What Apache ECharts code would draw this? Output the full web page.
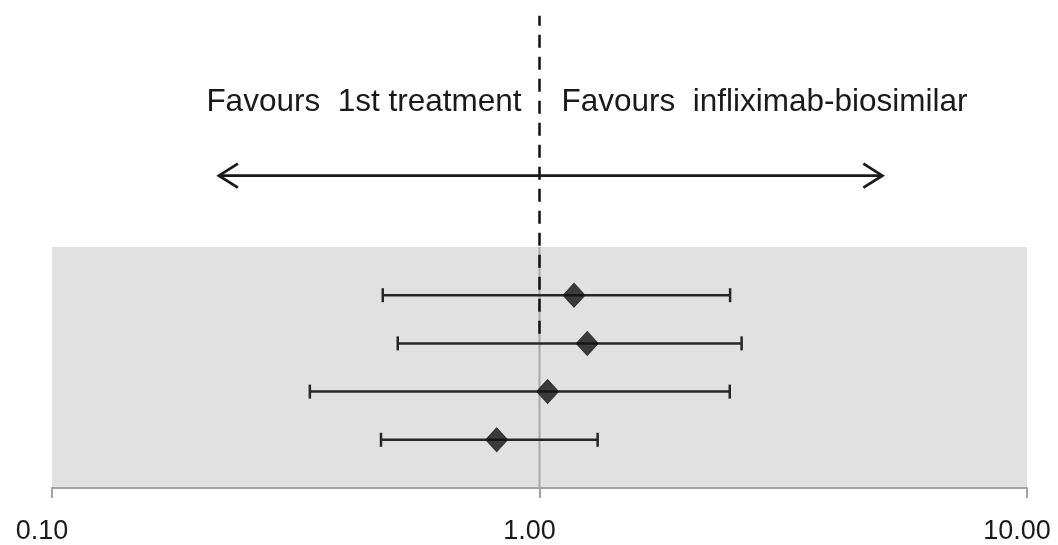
<!DOCTYPE html>
<html><head><meta charset="utf-8">
<script src="https://cdn.jsdelivr.net/npm/echarts@6/dist/echarts.min.js"></script>
<style>html,body{margin:0;padding:0;background:#fff}#c{width:1058px;height:545px}</style>
</head><body><div id="c"></div>
<script>
// ---- data ----
const rows = [4, 3, 2, 1];
const estimates = [1.177, 1.253, 1.039, 0.817];
const lower = [0.477, 0.512, 0.338, 0.473];
const upper = [2.46, 2.598, 2.456, 1.316];
const xTicks = [0.1, 1, 10];
const refValue = 1;
const dashRange = [3.2, 9.8];      // y-extent of dashed no-effect line (row units)
const arrowRange = [0.22, 5.05];   // x-extent of the double arrow
const arrowRow = 6.48;
const textRow = 8.0;
const leftText = 'Favours  1st treatment';
const rightText = 'Favours  infliximab-biosimilar';

const FONT = 'Liberation Sans';
const chart = echarts.init(document.getElementById('c'), null, {renderer: 'canvas'});

const ciData = rows.map((r, i) => [lower[i], upper[i], r]);
const ptData = rows.map((r, i) => [estimates[i], r]);

chart.setOption({
  animation: false,
  backgroundColor: '#ffffff',
  grid: {left: 52, right: 31, top: 247, bottom: 55, show: true, backgroundColor: '#e1e1e1', borderWidth: 0},
  xAxis: {
    type: 'log', logBase: 10, min: xTicks[0], max: xTicks[xTicks.length - 1],
    axisLine: {show: true, lineStyle: {color: '#a3a3a3', width: 2}},
    axisTick: {show: true, length: 10, lineStyle: {color: '#a3a3a3', width: 2}},
    minorTick: {show: false},
    splitLine: {show: false},
    axisLabel: {
      formatter: v => Number(v).toFixed(2),
      fontFamily: FONT, fontSize: 27, color: '#1a1a1a', margin: 30,
      padding: [0, 20, 0, 0]
    }
  },
  yAxis: {type: 'value', min: 0, max: 5, show: false},
  series: [
    {
      type: 'line', silent: true, symbol: 'none',
      data: [[refValue, 0], [refValue, 5]],
      lineStyle: {color: '#a8a8a8', width: 2}, z: 1
    },
    {
      type: 'line', silent: true, symbol: 'none', clip: false,
      data: [[refValue, dashRange[0]], [refValue, dashRange[1]]],
      lineStyle: {color: '#111', width: 2.5, type: [13, 9]}, z: 3
    },
    {
      type: 'custom', silent: true, clip: false, z: 4,
      data: ciData,
      encode: {x: [0, 1], y: 2},
      renderItem: (params, api) => {
        const a = api.coord([api.value(0), api.value(2)]);
        const b = api.coord([api.value(1), api.value(2)]);
        const h = 7;
        const st = {stroke: '#262626', lineWidth: 2.5};
        return {type: 'group', children: [
          {type: 'line', shape: {x1: a[0], y1: a[1], x2: b[0], y2: b[1]}, style: st},
          {type: 'line', shape: {x1: a[0], y1: a[1] - h, x2: a[0], y2: a[1] + h}, style: st},
          {type: 'line', shape: {x1: b[0], y1: b[1] - h, x2: b[0], y2: b[1] + h}, style: st}
        ]};
      }
    },
    {
      type: 'scatter', silent: true, z: 5,
      data: ptData,
      symbol: 'diamond', symbolSize: [22, 24],
      itemStyle: {color: '#111', borderColor: '#222', borderWidth: 1}
    },
    {
      type: 'custom', silent: true, clip: false, z: 4,
      data: [[arrowRange[0], arrowRange[1], arrowRow]],
      encode: {x: [0, 1], y: 2},
      renderItem: (params, api) => {
        const a = api.coord([api.value(0), api.value(2)]);
        const b = api.coord([api.value(1), api.value(2)]);
        const st = {stroke: '#1a1a1a', lineWidth: 2.8, fill: null};
        const dx = 19, dy = 12;
        return {type: 'group', children: [
          {type: 'line', shape: {x1: a[0], y1: a[1], x2: b[0], y2: b[1]}, style: st},
          {type: 'polyline', shape: {points: [[a[0] + dx, a[1] - dy], [a[0], a[1]], [a[0] + dx, a[1] + dy]]}, style: st},
          {type: 'polyline', shape: {points: [[b[0] - dx, b[1] - dy], [b[0], b[1]], [b[0] - dx, b[1] + dy]]}, style: st}
        ]};
      }
    },
    {
      type: 'custom', silent: true, clip: false, z: 6,
      data: [[refValue, textRow]],
      renderItem: (params, api) => {
        const p = api.coord([api.value(0), api.value(1)]);
        const ts = {fontFamily: FONT, fontSize: 31.5, fill: '#1a1a1a', verticalAlign: 'middle'};
        return {type: 'group', children: [
          {type: 'text', x: p[0] - 18, y: p[1], style: Object.assign({text: leftText, align: 'right'}, ts)},
          {type: 'text', x: p[0] + 22, y: p[1], style: Object.assign({text: rightText, align: 'left'}, ts)}
        ]};
      }
    }
  ]
});
</script>
</body></html>
